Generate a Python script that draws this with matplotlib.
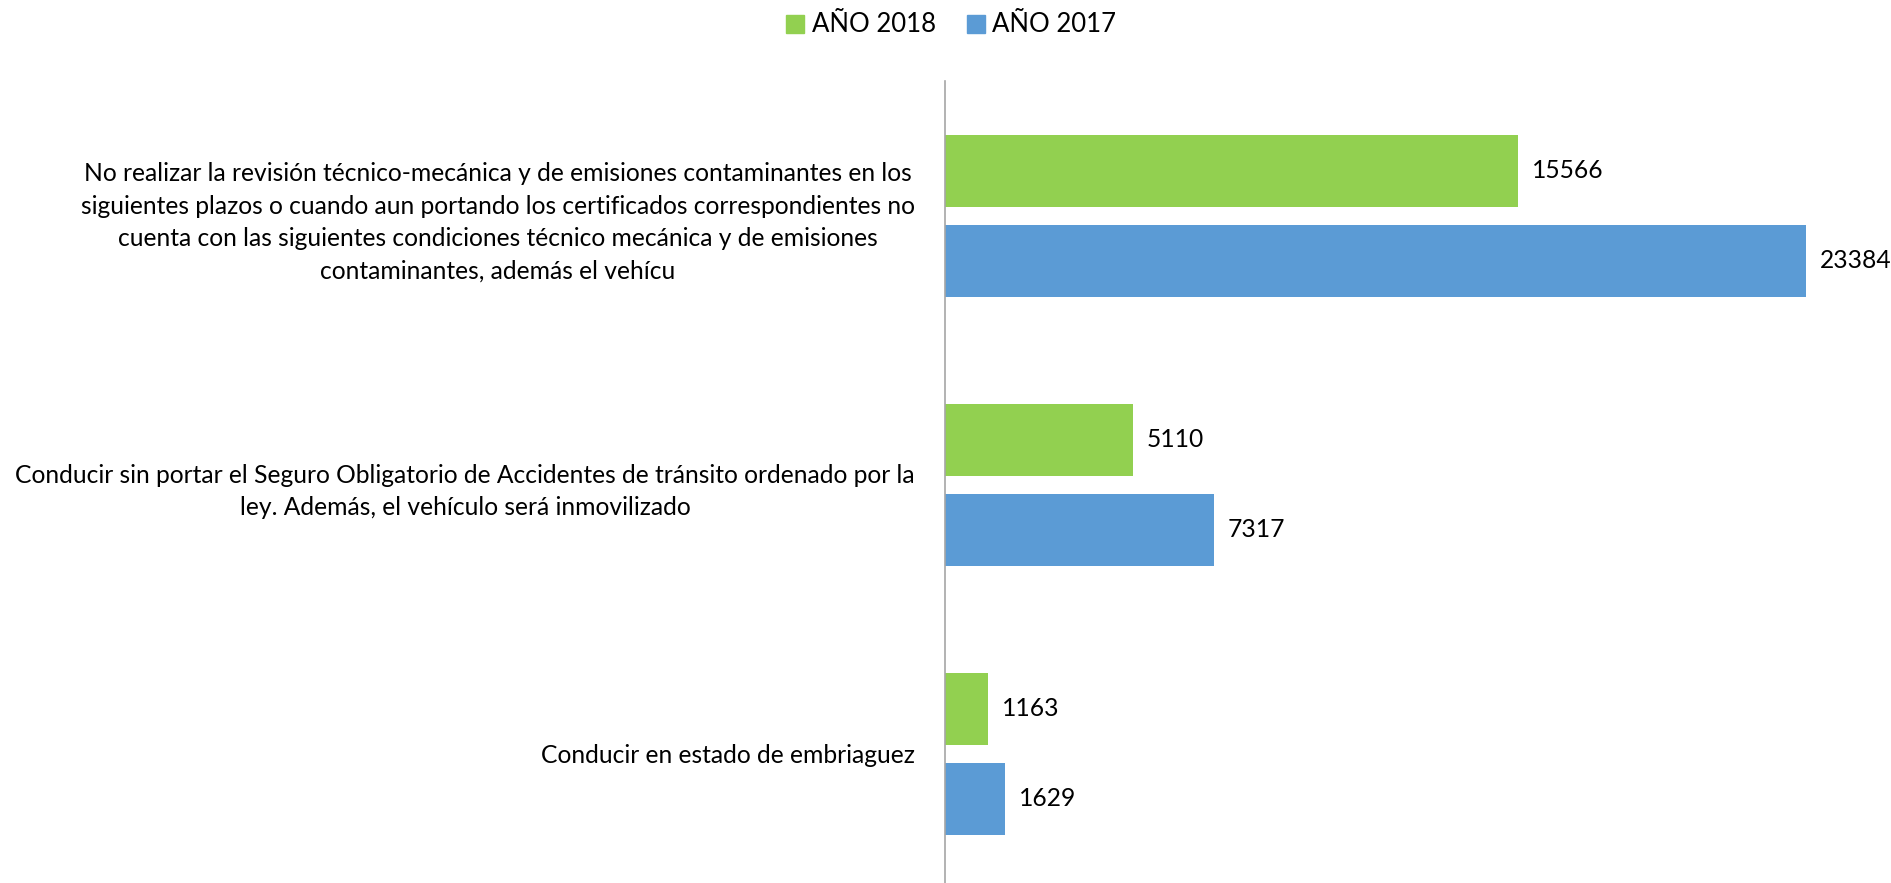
import matplotlib
matplotlib.use("Agg")
import matplotlib.pyplot as plt
import numpy as np
from matplotlib.patches import Patch
from matplotlib.transforms import Affine2D

categories = [
    "No realizar la revisión técnico-mecánica y de emisiones contaminantes en los\n"
    "siguientes plazos o cuando aun portando los certificados correspondientes no\n"
    "cuenta con las siguientes condiciones técnico mecánica y de emisiones\n"
    "contaminantes, además el vehícu",
    "Conducir sin portar el Seguro Obligatorio de Accidentes de tránsito ordenado por la\n"
    "ley. Además, el vehículo será inmovilizado",
    "Conducir en estado de embriaguez",
]
anio_2018 = [15566, 5110, 1163]
anio_2017 = [23384, 7317, 1629]
series_names = ["AÑO 2018", "AÑO 2017"]

GREEN = "#92D050"
BLUE = "#5B9BD5"
FS = 17.7

plt.rcParams['font.family'] = ['Lato', 'DejaVu Sans']

fig = plt.figure(figsize=(18.91, 8.83), dpi=100)
ax = fig.add_axes([0.4996, -0.006, 0.4867, 0.9139])

y = np.arange(len(categories))
h = 0.2665
off = 0.167
ax.barh(y - off, anio_2018, height=h, color=GREEN, label=series_names[0])
ax.barh(y + off, anio_2017, height=h, color=BLUE, label=series_names[1])

for yi, v in zip(y - off, anio_2018):
    ax.text(v + 380, yi, str(v), va='center', ha='left', fontsize=FS)
for yi, v in zip(y + off, anio_2017):
    ax.text(v + 380, yi, str(v), va='center', ha='left', fontsize=FS)

ax.set_xlim(0, 25000)
ax.set_ylim(2.5, -0.5)
ax.set_yticks(y)
ax.set_yticklabels(categories, fontsize=FS, ha='center', multialignment='center',
                   linespacing=1.5)
ax.tick_params(axis='y', length=0, pad=0)
ax.set_xticks([])
for s in ['top', 'right', 'bottom']:
    ax.spines[s].set_visible(False)
ax.spines['left'].set_color('#A6A6A6')
ax.spines['left'].set_linewidth(1.2)

fig.canvas.draw()
renderer = fig.canvas.get_renderer()
# right edge of each label block sits ~30 px left of the axis
axis_x = ax.transAxes.transform((0, 0))[0]
for lab in ax.get_yticklabels():
    bb = lab.get_window_extent(renderer)
    shift = (axis_x - 30) - bb.x1
    lab.set_transform(lab.get_transform() + Affine2D().translate(shift, 0))

handles = [Patch(color=GREEN), Patch(color=BLUE)]
fig.legend(handles, series_names, loc='center', bbox_to_anchor=(0.503, 1 - 25 / 883),
           ncol=2, frameon=False, fontsize=18.5, handlelength=0.7, handleheight=0.7,
           handletextpad=0.3, columnspacing=1.2)

fig.savefig("out.png", dpi=100)
